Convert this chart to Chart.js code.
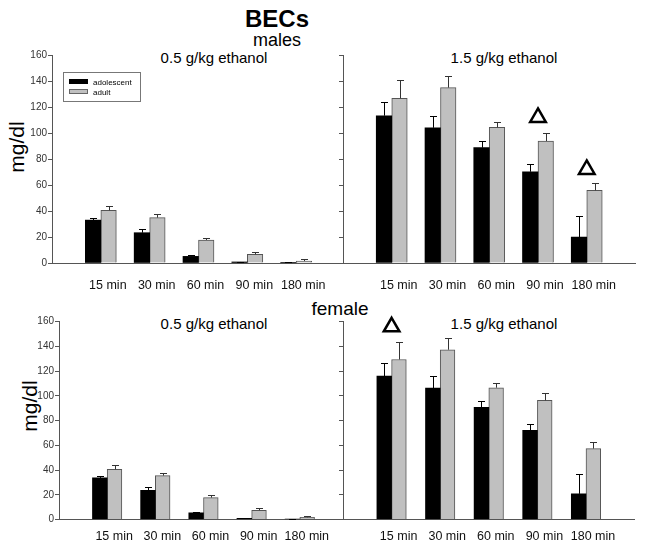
<!DOCTYPE html>
<html>
<head>
<meta charset="utf-8">
<script src="https://cdn.jsdelivr.net/npm/chart.js@4.4.1/dist/chart.umd.min.js"></script>
<style>
  html, body { margin: 0; padding: 0; background: #fff; }
  #wrap { position: relative; width: 647px; height: 541px; overflow: hidden; background: #fff;
          font-family: "Liberation Sans", Arial, sans-serif; color: #000; }
  #wrap canvas { position: absolute; }
  .txt { position: absolute; white-space: nowrap; line-height: 1; transform: translate(-50%, -50%); }
  .ylab { position: absolute; white-space: nowrap; line-height: 1; font-size: 21px;
          transform: translate(-50%, -50%) rotate(-90deg); }
  #legend { position: absolute; left: 63px; top: 72px; width: 78px; height: 30px;
            border: 1px solid #777; box-sizing: border-box; font-size: 8px; }
  #legend .row { position: absolute; left: 5px; height: 8px; line-height: 8px; }
  #legend .sw { display: inline-block; width: 19px; height: 5px; margin-right: 5px; vertical-align: 1px; box-sizing: border-box; }
</style>
</head>
<body>
<div id="wrap">
  <div class="txt" style="left:277px;top:19px;font-size:24px;font-weight:bold;">BECs</div>
  <div class="txt" style="left:277px;top:40px;font-size:18px;">males</div>
  <div class="txt" style="left:340px;top:308px;font-size:19px;">female</div>
  <div class="txt" style="left:214px;top:57px;font-size:15px;">0.5 g/kg ethanol</div>
  <div class="txt" style="left:504px;top:57px;font-size:15px;">1.5 g/kg ethanol</div>
  <div class="txt" style="left:214px;top:323px;font-size:15px;">0.5 g/kg ethanol</div>
  <div class="txt" style="left:504px;top:323px;font-size:15px;">1.5 g/kg ethanol</div>
  <div class="ylab" style="left:16px;top:147px;">mg/dl</div>
  <div class="ylab" style="left:29px;top:406px;">mg/dl</div>

  <canvas id="maleLow" width="352" height="250" style="left:0;top:40px"></canvas>
  <canvas id="maleHigh" width="347" height="250" style="left:300px;top:40px"></canvas>
  <canvas id="femaleLow" width="350" height="235" style="left:0;top:306px"></canvas>
  <canvas id="femaleHigh" width="347" height="235" style="left:300px;top:306px"></canvas>

  <div id="legend">
    <div class="row" style="top:6px"><span class="sw" style="background:#000"></span>adolescent</div>
    <div class="row" style="top:16px"><span class="sw" style="background:#c0c0c0;border:1px solid #666"></span>adult</div>
  </div>
</div>

<script>
// categories and axis ticks
const timeLabels = ['15 min', '30 min', '60 min', '90 min', '180 min'];
const yTicks = [0, 20, 40, 60, 80, 100, 120, 140, 160];

// males, 0.5 g/kg
const maleLowAdolescent = [33, 23.3, 5.1, 0.8, 0.3];
const maleLowAdolescentErr = [1.5, 2.6, 1, 0.3, 0.5];
const maleLowAdult = [40.5, 34.9, 17.7, 6.7, 1.5];
const maleLowAdultErr = [3.5, 2.5, 1.8, 1.8, 1.3];

// males, 1.5 g/kg
const maleHighAdolescent = [113.3, 104, 88.7, 70.2, 20];
const maleHighAdolescentErr = [10.8, 9.3, 4.9, 5.7, 15.9];
const maleHighAdult = [126.7, 134.9, 104.4, 93.8, 55.9];
const maleHighAdultErr = [14.3, 8.7, 4.3, 6.2, 5.9];
const maleHighMarks = [null, null, null, 112, 72];

// female, 0.5 g/kg
const femaleLowAdolescent = [33.6, 23.6, 5.4, 1, 0.4];
const femaleLowAdolescentErr = [1.3, 2.7, 1, 0.3, 0.4];
const femaleLowAdult = [40.6, 35.5, 17.7, 7.5, 1.8];
const femaleLowAdultErr = [3.8, 2.4, 2.2, 1.4, 1.4];

// female, 1.5 g/kg
const femaleHighAdolescent = [115.9, 106.2, 90.6, 72, 20.7];
const femaleHighAdolescentErr = [10.8, 9.4, 4.9, 5.4, 15.8];
const femaleHighAdult = [129.3, 137.2, 106.5, 96.3, 57.3];
const femaleHighAdultErr = [14.3, 9.1, 4, 5.9, 5.6];
const femaleHighMarks = [155.7, null, null, null, null];

const FONT = '"Liberation Sans", Arial, sans-serif';

// blank slot at each end so the groups sit one step in from the axes
const pad = arr => [null, ...arr, null];

// upward-only error bars with a cap
const errorBars = {
    id: 'errorBars',
    afterDatasetsDraw(chart) {
        const ctx = chart.ctx;
        const yScale = chart.scales.y;
        chart.data.datasets.forEach((ds, di) => {
            if (!ds.errors) return;
            const meta = chart.getDatasetMeta(di);
            meta.data.forEach((bar, i) => {
                const v = ds.data[i];
                const e = ds.errors[i];
                if (v == null || e == null) return;
                const x = Math.round(bar.x) + 0.5;
                const top = Math.round(yScale.getPixelForValue(v + e)) + 0.5;
                ctx.save();
                ctx.strokeStyle = ds.errorColor;
                ctx.lineWidth = 1;
                ctx.beginPath();
                ctx.moveTo(x, bar.y);
                ctx.lineTo(x, top);
                ctx.moveTo(x - 3.5, top);
                ctx.lineTo(x + 3.5, top);
                ctx.stroke();
                ctx.restore();
            });
        });
    }
};

function buildChart(id, cfg) {
    const datasets = [
        {
            type: 'bar',
            label: 'adolescent',
            data: pad(cfg.adolescent),
            errors: pad(cfg.adolescentErr),
            errorColor: '#000',
            backgroundColor: '#000',
            borderWidth: 0,
            barThickness: cfg.bar
        },
        {
            type: 'bar',
            label: 'adult',
            data: pad(cfg.adult),
            errors: pad(cfg.adultErr),
            errorColor: '#333',
            backgroundColor: '#c0c0c0',
            borderColor: '#555',
            borderWidth: 1,
            borderSkipped: 'bottom',
            barThickness: cfg.bar
        }
    ];
    if (cfg.marks) {
        datasets.push({
            type: 'line',
            label: 'sig',
            data: pad(cfg.marks),
            showLine: false,
            pointStyle: 'triangle',
            pointRadius: 9,
            pointHoverRadius: 9,
            borderColor: '#000',
            backgroundColor: '#fff',
            borderWidth: 2.5,
            clip: false
        });
    }

    return new Chart(document.getElementById(id), {
        type: 'bar',
        data: { labels: ['', ...timeLabels, ''], datasets },
        plugins: [errorBars],
        options: {
            responsive: false,
            animation: false,
            layout: { padding: { top: cfg.padTop, right: cfg.padRight || 0, left: 0, bottom: 0 } },
            plugins: { legend: { display: false }, tooltip: { enabled: false } },
            scales: {
                x: {
                    type: 'category',
                    offset: false,
                    grid: { display: false },
                    border: { display: true, color: '#555', width: 1 },
                    ticks: {
                        color: '#111',
                        font: { family: FONT, size: 12.5 },
                        padding: cfg.xPad,
                        labelOffset: 7,
                        autoSkip: false,
                        maxRotation: 0
                    },
                    afterFit: s => { s.height = cfg.xHeight; }
                },
                y: {
                    min: 0,
                    max: 160,
                    afterBuildTicks: s => { s.ticks = yTicks.map(v => ({ value: v })); },
                    ticks: {
                        display: cfg.showY,
                        color: '#333',
                        font: { family: FONT, size: 10 },
                        padding: 1
                    },
                    grid: { drawOnChartArea: false, drawTicks: true, tickLength: 4, color: '#555' },
                    border: { display: true, color: '#555', width: 1 },
                    afterFit: s => { s.width = cfg.yWidth; }
                }
            }
        }
    });
}

buildChart('maleLow', {
    adolescent: maleLowAdolescent, adolescentErr: maleLowAdolescentErr,
    adult: maleLowAdult, adultErr: maleLowAdultErr,
    bar: 15.5, padTop: 15, yWidth: 52, xHeight: 27, xPad: 7, showY: true
});
buildChart('maleHigh', {
    adolescent: maleHighAdolescent, adolescentErr: maleHighAdolescentErr,
    adult: maleHighAdult, adultErr: maleHighAdultErr, marks: maleHighMarks,
    bar: 15.5, padTop: 15, padRight: 7, yWidth: 43, xHeight: 27, xPad: 7, showY: false
});
buildChart('femaleLow', {
    adolescent: femaleLowAdolescent, adolescentErr: femaleLowAdolescentErr,
    adult: femaleLowAdult, adultErr: femaleLowAdultErr,
    bar: 14.7, padTop: 15.5, yWidth: 59, xHeight: 21.5, xPad: 2, showY: true
});
buildChart('femaleHigh', {
    adolescent: femaleHighAdolescent, adolescentErr: femaleHighAdolescentErr,
    adult: femaleHighAdult, adultErr: femaleHighAdultErr, marks: femaleHighMarks,
    bar: 14.7, padTop: 15.5, padRight: 12.4, yWidth: 43, xHeight: 21.5, xPad: 2, showY: false
});
</script>
</body>
</html>
